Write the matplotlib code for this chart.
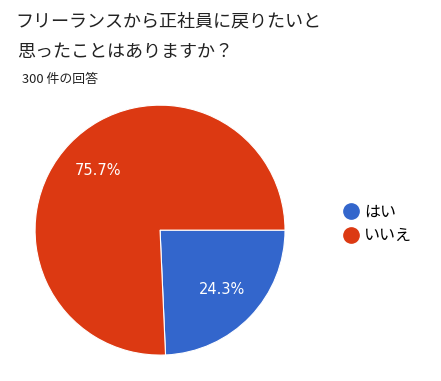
import matplotlib.pyplot as plt
from matplotlib.lines import Line2D

plt.rcParams['font.family'] = ['Noto Sans CJK JP', 'DejaVu Sans']

labels = ["はい", "いいえ"]
values = [24.3, 75.7]
colors = ["#3366CC", "#DC3912"]

fig = plt.figure(figsize=(4.41, 3.81), dpi=100)
ax = fig.add_axes([0.0794, 0.068, 0.567, 0.656])

wedges, texts, autotexts = ax.pie(
    values, colors=colors, startangle=0, counterclock=False,
    autopct="%.1f%%", pctdistance=0.69,
    wedgeprops=dict(edgecolor="white", linewidth=0.8),
    textprops=dict(color="white", fontsize=10.5, family=['DejaVu Sans']))
ax.set_xlim(-1.0, 1.0)
ax.set_ylim(-1.0, 1.0)
ax.set_aspect("equal")

fig.text(15 / 441, 1 - 21 / 381, "フリーランスから正社員に戻りたいと",
         fontsize=13, color="#222222", va="center")
fig.text(17 / 441, 1 - 52 / 381, "思ったことはありますか？",
         fontsize=13, color="#222222", va="center")
fig.text(22 / 441, 1 - 80 / 381, "300 件の回答",
         fontsize=9.3, color="#222222", va="center")

handles = [Line2D([], [], marker="o", linestyle="none", markersize=11,
                  markerfacecolor=c, markeredgecolor=c) for c in colors]
fig.legend(handles, labels, loc="center left", bbox_to_anchor=(329 / 441, 1 - 224 / 381),
           frameon=False, fontsize=11.5, handletextpad=0.3, labelspacing=0.4,
           handlelength=1.0)

fig.savefig("out.png", dpi=100, facecolor="white")
